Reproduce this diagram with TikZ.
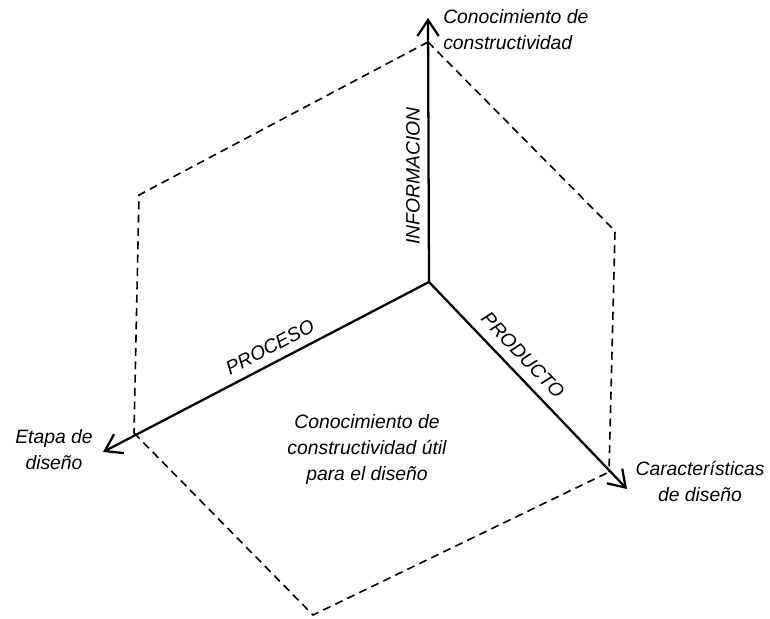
\documentclass[tikz,border=0pt]{standalone}
\usepackage{fontspec}
\setmainfont{Liberation Sans}
\usetikzlibrary{arrows.meta}
\usetikzlibrary{positioning}

\begin{document}
\begin{tikzpicture}[x=0.75pt, y=0.75pt,
  axis/.style={-{Straight Barb[length=12pt,width=16pt]}, line width=1.7pt},
  face/.style={line width=1.2pt, dash pattern=on 6pt off 4pt},
  lbl/.style={font=\fontsize{14.5}{19.5}\selectfont\itshape, align=center, inner sep=0pt}]

\useasboundingbox (0,0) rectangle (770,618);

\coordinate (o) at (429, 336);
\coordinate (info) at (428, 600);
\coordinate (proc) at (103, 166);
\coordinate (prod) at (627, 129);

\coordinate (infoc) at (428, 576);
\coordinate (procc) at (134, 185);
\coordinate (prodc) at (609, 146);
\coordinate (tl) at (139, 423);
\coordinate (tr) at (615, 387);
\coordinate (bt) at (313, 3);

\draw[face] (infoc) -- (tl) -- (procc);
\draw[face] (infoc) -- (tr) -- (prodc);
\draw[face] (procc) -- (bt) -- (prodc);

\draw[axis] (o) -- (info);
\draw[axis] (o) -- (proc);
\draw[axis] (o) -- (prod);

\node[lbl, anchor=west, align=left] (conoc) at (443, 588) {Conocimiento de\\constructividad};
\node[lbl] (etapa) at (54, 168) {Etapa de\\diseño};
\node[lbl] (carac) at (700, 137) {Características\\de diseño};
\node[lbl] (util) at (367, 169) {Conocimiento de\\constructividad útil\\para el diseño};

\node[lbl, rotate=90] (infol) at (413, 442) {INFORMACION};
\node[lbl, rotate=27.5] (procl) at (270, 271) {PROCESO};
\node[lbl, rotate=-46.3] (prodl) at (523, 263) {PRODUCTO};

\end{tikzpicture}
\end{document}
